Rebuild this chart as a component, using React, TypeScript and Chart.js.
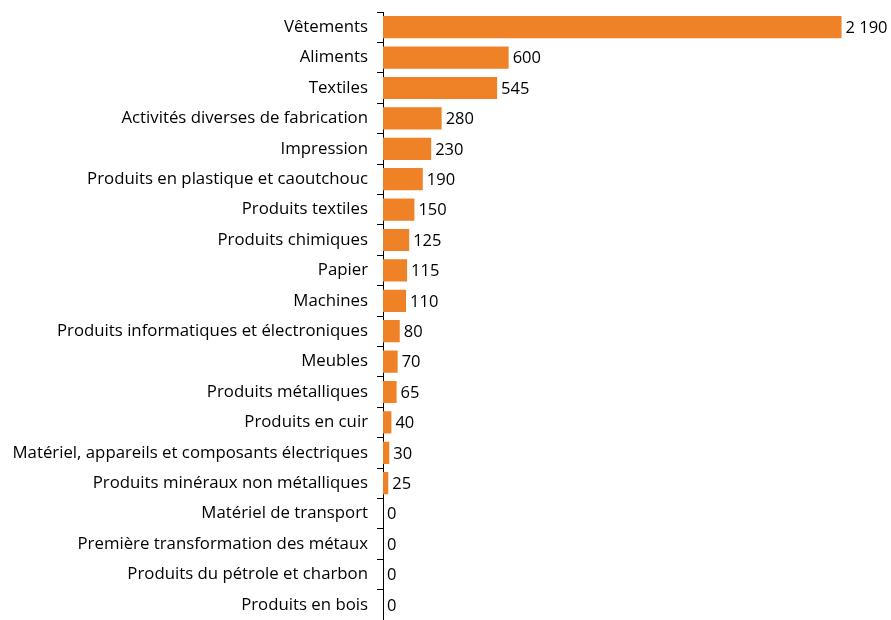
import React, { useEffect, useRef } from "react";
import { Chart, registerables } from "chart.js";

Chart.register(...registerables);

const categories = [
  "Vêtements",
  "Aliments",
  "Textiles",
  "Activités diverses de fabrication",
  "Impression",
  "Produits en plastique et caoutchouc",
  "Produits textiles",
  "Produits chimiques",
  "Papier",
  "Machines",
  "Produits informatiques et électroniques",
  "Meubles",
  "Produits métalliques",
  "Produits en cuir",
  "Matériel, appareils et composants électriques",
  "Produits minéraux non métalliques",
  "Matériel de transport",
  "Première transformation des métaux",
  "Produits du pétrole et charbon",
  "Produits en bois",
];

const values = [2190, 600, 545, 280, 230, 190, 150, 125, 115, 110, 80, 70, 65, 40, 30, 25, 0, 0, 0, 0];

const FONT = "'Open Sans', Lato, sans-serif";
const BAR_COLOR = "#EF8126";

const fmt = (v: number) => String(v).replace(/\B(?=(\d{3})+(?!\d))/g, " ");

const valueLabels = {
  id: "valueLabels",
  afterDatasetsDraw(chart: any) {
    const ctx = chart.ctx;
    const meta = chart.getDatasetMeta(0);
    ctx.save();
    ctx.font = `16.5px ${FONT}`;
    ctx.fillStyle = "#000";
    ctx.textAlign = "left";
    ctx.textBaseline = "middle";
    meta.data.forEach((bar: any, i: number) => {
      ctx.fillText(fmt(values[i]), bar.x + 4, bar.y + 1);
    });
    ctx.restore();
  },
};

export default function App() {
  const ref = useRef<HTMLCanvasElement | null>(null);
  useEffect(() => {
    if (!ref.current) return;
    const chart = new Chart(ref.current, {
      type: "bar",
      data: {
        labels: categories,
        datasets: [
          {
            data: values,
            backgroundColor: BAR_COLOR,
            barPercentage: 0.73,
            categoryPercentage: 1,
          },
        ],
      },
      plugins: [valueLabels],
      options: {
        indexAxis: "y",
        animation: false,
        responsive: false,
        layout: { padding: { top: 12, right: 5.5, bottom: -2, left: 0 } },
        plugins: { legend: { display: false }, tooltip: { enabled: false } },
        scales: {
          x: { display: false, min: 0, max: 2400 },
          y: {
            afterFit: (s: any) => {
              s.width = 383;
              s.paddingTop = 0;
              s.paddingBottom = 0;
            },
            grid: {
              drawOnChartArea: false,
              drawTicks: true,
              tickLength: 6,
              color: "#000",
              offset: true,
            },
            border: { display: true, color: "#000", width: 1 },
            ticks: {
              padding: 9,
              color: "#000",
              font: { family: FONT, size: 16.8 },
              autoSkip: false,
            },
          },
        },
      },
    });
    return () => chart.destroy();
  }, []);
  return (
    <div style={{ position: "absolute", left: 0, top: 0, width: 891, height: 620, background: "#fff" }}>
      <canvas ref={ref} width={891} height={620} style={{ width: 891, height: 620 }} />
    </div>
  );
}
